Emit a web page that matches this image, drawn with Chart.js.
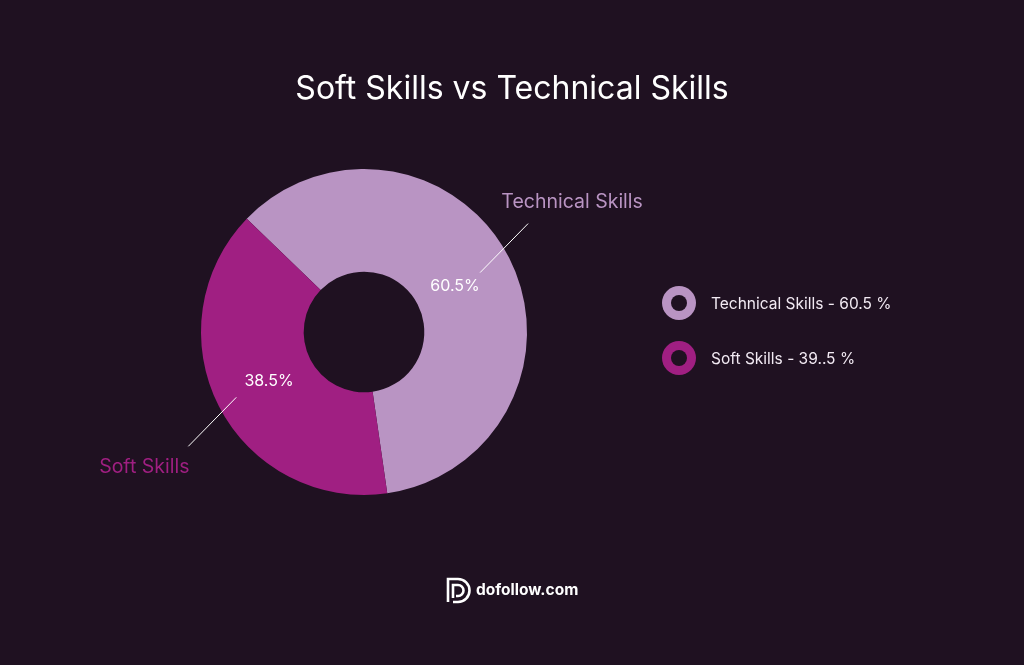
<!DOCTYPE html>
<html>
<head>
<meta charset="utf-8">
<script src="https://cdn.jsdelivr.net/npm/chart.js@4"></script>
<style>
  html, body { margin: 0; padding: 0; background: #1f1121; }
  #wrap { width: 1024px; height: 665px; position: relative; }
</style>
</head>
<body>
<div id="wrap"><canvas id="skillsChart" width="1024" height="665"></canvas></div>
<script>
const titleText = 'Soft Skills vs Technical Skills';
const categories = ['Technical Skills', 'Soft Skills'];
const shares = [60.5, 39.5];
const sliceLabels = ['60.5%', '38.5%'];
const legendLabels = ['Technical Skills - 60.5 %', 'Soft Skills - 39..5 %'];
const sliceColors = ['#b994c3', '#a01f82'];
const brand = 'dofollow.com';

const bg = '#1f1121';
const font = 'Inter, "Noto Sans", sans-serif';

const overlay = {
    id: 'overlay',
    afterDraw(chart) {
        const ctx = chart.ctx;
        const meta = chart.getDatasetMeta(0);
        ctx.save();

        // title
        ctx.fillStyle = '#ffffff';
        ctx.font = '400 32px ' + font;
        ctx.textAlign = 'center';
        ctx.textBaseline = 'middle';
        ctx.fillText(titleText, 512, 89);

        meta.data.forEach((arc, i) => {
            const p = arc.getProps(['x', 'y', 'startAngle', 'endAngle', 'innerRadius', 'outerRadius'], true);
            const mid = (p.startAngle + p.endAngle) / 2;
            const cos = Math.cos(mid), sin = Math.sin(mid);
            const dir = cos >= 0 ? 1 : -1;

            // value inside slice
            const rIn = p.innerRadius + (p.outerRadius - p.innerRadius) * 0.43;
            ctx.fillStyle = '#ffffff';
            ctx.font = '400 16px ' + font;
            ctx.textAlign = 'center';
            ctx.fillText(sliceLabels[i], p.x + cos * rIn - 2, p.y + sin * rIn + 2);

            // leader line
            const r0 = p.outerRadius * (dir > 0 ? 0.8 : 0.88);
            const sx = p.x + cos * r0, sy = p.y + sin * r0;
            const ex = sx + dir * 48, ey = sy - dir * 49;
            ctx.strokeStyle = '#ffffff';
            ctx.lineWidth = 1;
            ctx.beginPath();
            ctx.moveTo(sx, sy);
            ctx.lineTo(ex, ey);
            ctx.stroke();

            // category label
            ctx.fillStyle = sliceColors[i];
            ctx.font = '400 19.5px ' + font;
            ctx.fillText(categories[i], ex + dir * 44, ey - dir * 21);

            // legend
            const ly = 303 + i * 55;
            ctx.fillStyle = sliceColors[i];
            ctx.beginPath();
            ctx.arc(679, ly, 17, 0, Math.PI * 2);
            ctx.fill();
            ctx.fillStyle = bg;
            ctx.beginPath();
            ctx.arc(679, ly, 8, 0, Math.PI * 2);
            ctx.fill();
            ctx.fillStyle = '#f2eaf3';
            ctx.font = '400 15.5px ' + font;
            ctx.textAlign = 'left';
            ctx.fillText(legendLabels[i], 711, ly + 1);
        });

        // logo
        ctx.strokeStyle = '#ffffff';
        ctx.lineWidth = 2.6;
        ctx.beginPath();
        ctx.moveTo(448, 602);
        ctx.lineTo(448, 579);
        ctx.lineTo(458, 579);
        ctx.arc(458, 590.5, 11.5, -Math.PI / 2, Math.PI / 2);
        ctx.lineTo(453, 602);
        ctx.moveTo(453, 598);
        ctx.lineTo(453, 585);
        ctx.lineTo(458, 585);
        ctx.arc(458, 590.5, 5.5, -Math.PI / 2, Math.PI / 2);
        ctx.lineTo(456, 596);
        ctx.stroke();
        ctx.fillStyle = '#ffffff';
        ctx.font = '700 15.5px ' + font;
        ctx.textAlign = 'left';
        ctx.fillText(brand, 476, 590);

        ctx.restore();
    }
};

new Chart(document.getElementById('skillsChart'), {
    type: 'doughnut',
    data: {
        labels: categories,
        datasets: [{
            data: shares,
            backgroundColor: sliceColors,
            borderWidth: 0
        }]
    },
    options: {
        responsive: false,
        animation: false,
        rotation: -46,
        cutout: '37%',
        layout: { padding: { left: 201, right: 497, top: 169, bottom: 170 } },
        plugins: {
            legend: { display: false },
            tooltip: { enabled: false }
        }
    },
    plugins: [overlay]
});
</script>
</body>
</html>
